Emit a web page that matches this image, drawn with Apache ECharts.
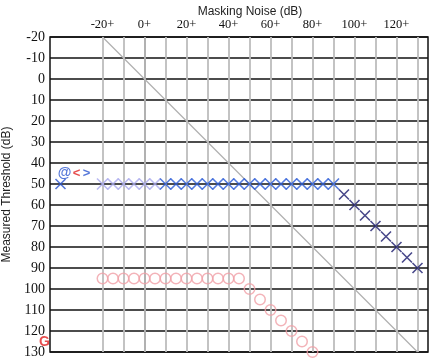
<!DOCTYPE html>
<html>
<head>
<meta charset="utf-8">
<script src="https://cdn.jsdelivr.net/npm/echarts@6/dist/echarts.min.js"></script>
<style>html,body{margin:0;padding:0;background:#fff;}#c{width:446px;height:364px;}</style>
</head>
<body>
<div id="c"></div>
<script>
// Axis values
var yTicks = [-20,-10,0,10,20,30,40,50,60,70,80,90,100,110,120,130];
var xGridLines = [-20,-10,0,10,20,30,40,50,60,70,80,90,100,110,120,130];
var xTopLabels = [-20,0,20,40,60,80,100,120];

// Series values
var lightX50 = [[-20,50],[-15,50],[-10,50],[-5,50],[0,50],[5,50]];
var blueX50 = [[10,50],[15,50],[20,50],[25,50],[30,50],[35,50],[40,50],[45,50],[50,50],[55,50],[60,50],[65,50],[70,50],[75,50],[80,50],[85,50],[90,50]];
var navyX = [[95,55],[100,60],[105,65],[110,70],[115,75],[120,80],[125,85],[130,90]];
var pinkRow = [[-20,95],[-15,95],[-10,95],[-5,95],[0,95],[5,95],[10,95],[15,95],[20,95],[25,95],[30,95],[35,95],[40,95],[45,95]];
var pinkDiag = [[50,100],[55,105],[60,110],[65,115],[70,120],[75,125],[80,130]];
var diagonal = [[-20,-20],[130,130]];
var unmaskedX = [[-40,50]];
var symbolTexts = [
  {value:[-38,44.8], name:'@', color:'#2a55d0', size:14},
  {value:[-32.4,44.8], name:'<', color:'#e02020', size:13},
  {value:[-27.6,44.8], name:'>', color:'#2a55d0', size:13},
  {value:[-47.6,125.2], name:'G', color:'#e02020', size:14}
];

var XPATH = 'path://M0,0L10,10M10,0L0,10';
function xSeries(data, color, size) {
  return {
    type:'scatter', data:data, symbol:XPATH, symbolSize:size, symbolKeepAspect:true,
    itemStyle:{color:'transparent', borderColor:color, borderWidth:1.6},
    clip:false, silent:true, z:5
  };
}
function oSeries(data, color) {
  return {
    type:'scatter', data:data, symbol:'circle', symbolSize:10.5,
    itemStyle:{color:'transparent', borderColor:color, borderWidth:1.5},
    clip:false, silent:true, z:5
  };
}

var chart = echarts.init(document.getElementById('c'), null, {renderer:'canvas'});
chart.setOption({
  animation:false,
  backgroundColor:'#fff',
  title:{
    text:'Masking Noise (dB)', left:245, top:1, textAlign:'center',
    textStyle:{fontFamily:'Liberation Sans', fontSize:12, fontWeight:'normal', color:'#222'}
  },
  grid:{left:50, right:18, top:37, bottom:12, show:true, borderColor:'#111', borderWidth:1.5,
    backgroundColor:'transparent', containLabel:false, outerBoundsMode:'none'},
  xAxis:{
    type:'value', position:'top', min:-45, max:135, interval:5,
    axisLine:{show:false}, axisTick:{show:false}, splitLine:{show:false},
    axisLabel:{
      margin:6, color:'#111', fontFamily:'Liberation Serif', fontSize:12.5,
      showMinLabel:true, showMaxLabel:true,
      formatter:function(v){ return xTopLabels.indexOf(v) >= 0 ? (v + '+') : ''; }
    }
  },
  yAxis:{
    type:'value', inverse:true, min:-20, max:130, interval:10,
    name:'Measured Threshold (dB)', nameLocation:'middle', nameGap:33, nameRotate:90,
    nameTextStyle:{fontFamily:'Liberation Sans', fontSize:12, color:'#222'},
    axisLine:{show:true, lineStyle:{color:'#111', width:1.5}}, axisTick:{show:false},
    splitLine:{show:true, lineStyle:{color:'#111', width:1.5}},
    axisLabel:{margin:5, color:'#111', fontFamily:'"Liberation Serif", serif', fontSize:14,
      formatter:function(v){ return yTicks.indexOf(v) >= 0 ? String(v) : ''; }}
  },
  series:[
    {
      type:'line', data:diagonal, symbol:'none', silent:true, z:2,
      lineStyle:{color:'#b0b0b0', width:1.3},
      markLine:{
        silent:true, symbol:'none', label:{show:false},
        lineStyle:{color:'#bdbdbd', width:1.8, type:'solid'},
        data:xGridLines.map(function(v){ return {xAxis:v}; })
      }
    },
    xSeries(lightX50, '#a9a9ee', 11),
    xSeries(blueX50, '#2a5bd7', 11),
    xSeries(navyX, '#1c1c6e', 10),
    xSeries(unmaskedX, '#2a55d0', 10),
    oSeries(pinkRow, '#f0a0a8'),
    oSeries(pinkDiag, '#f0a0a8'),
    {
      type:'scatter', data:symbolTexts.map(function(d){
        return {value:d.value, name:d.name, label:{color:d.color, fontSize:d.size}};
      }),
      symbolSize:1, itemStyle:{color:'transparent'}, clip:false, silent:true, z:6,
      label:{show:true, position:'inside', formatter:'{b}', fontFamily:'Liberation Sans', fontSize:13, fontWeight:'bold'}
    }
  ]
});
</script>
</body>
</html>
